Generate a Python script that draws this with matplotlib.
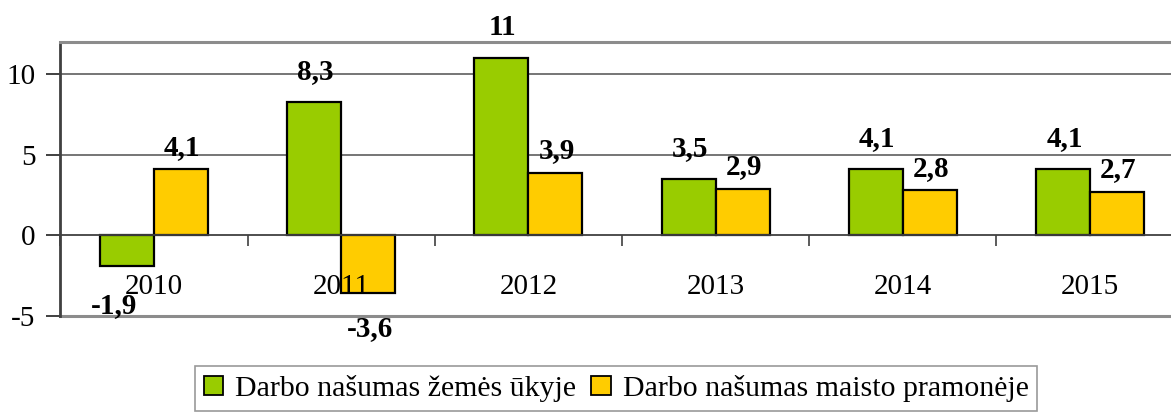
import matplotlib
matplotlib.use("Agg")
import matplotlib.pyplot as plt
from matplotlib.patches import Patch
import numpy as np

plt.rcParams['font.family'] = ['Liberation Serif', 'DejaVu Serif']

years = ["2010", "2011", "2012", "2013", "2014", "2015"]
agri = [-1.9, 8.3, 11, 3.5, 4.1, 4.1]
food = [4.1, -3.6, 3.9, 2.9, 2.8, 2.7]
agri_labels = ["-1,9", "8,3", "11", "3,5", "4,1", "4,1"]
food_labels = ["4,1", "-3,6", "3,9", "2,9", "2,8", "2,7"]
series_names = ["Darbo našumas žemės ūkyje", "Darbo našumas maisto pramonėje"]
colors = ["#99CC00", "#FFCC00"]

W, H = 1171, 412
fig = plt.figure(figsize=(W / 100, H / 100), dpi=100)
ax = fig.add_axes([60.4 / W, 96 / H, 1123.2 / W, 274 / H])

x = np.arange(len(years))
bw = 0.288
b1 = ax.bar(x - bw / 2, agri, bw, color=colors[0], edgecolor="black", linewidth=1.6, zorder=3)
b2 = ax.bar(x + bw / 2, food, bw, color=colors[1], edgecolor="black", linewidth=1.6, zorder=3)

ax.set_xlim(-0.5, 5.5)
ax.set_ylim(-5, 12)

# gridlines
for yv in [5, 10]:
    ax.axhline(yv, color="#505050", linewidth=1.1, zorder=1)
ax.axhline(-5, color="#8c8c8c", linewidth=2.2, zorder=1, clip_on=False)

ax.spines['right'].set_visible(False)
ax.spines['top'].set_color("#8c8c8c")
ax.spines['top'].set_linewidth(2.2)
ax.spines['left'].set_color("#404040")
ax.spines['left'].set_linewidth(2)
ax.spines['bottom'].set_position(('data', 0))
ax.spines['bottom'].set_color("#404040")
ax.spines['bottom'].set_linewidth(1.3)
ax.spines['bottom'].set_zorder(4)

ax.set_yticks([-5, 0, 5, 10])
ax.set_yticklabels(["-5", "0", "5", "10"])
ax.tick_params(axis='y', direction='out', length=10, width=1.4, color="#404040",
               labelsize=21, pad=8)
ax.set_xticks(np.arange(-0.5, 5.6, 1))
ax.set_xticklabels([])
ax.tick_params(axis='x', direction='out', length=8, width=1.2, color="#404040")

for xi, lab in zip(x, years):
    ax.text(xi, -3.2, lab, ha='center', va='center', fontsize=21, zorder=5)

def label_bars(bars, vals, labs, pos_dy, neg_dy, neg_dx):
    for b, v, l in zip(bars, vals, labs):
        cx = b.get_x() + b.get_width() / 2
        if v >= 0:
            ax.annotate(l, (cx, v), xytext=(1, pos_dy), textcoords='offset points',
                        ha='center', va='baseline', fontsize=21, fontweight='bold',
                        zorder=6, annotation_clip=False)
        else:
            ax.annotate(l, (cx, v), xytext=(neg_dx, neg_dy), textcoords='offset points',
                        ha='center', va='top', fontsize=21, fontweight='bold',
                        zorder=6, annotation_clip=False)

label_bars(b1, agri, agri_labels, 16.5, -19, -9)
label_bars(b2, food, food_labels, 10.5, -15.5, 1.5)

handles = [Patch(facecolor=c, edgecolor="black", linewidth=1.3) for c in colors]
leg = fig.legend(handles, series_names, loc='upper left',
                 bbox_to_anchor=(195 / W, 1 - 366 / H), fontsize=21.5,
                 ncol=2, frameon=True, fancybox=False, handlelength=0.65,
                 handleheight=0.65, handletextpad=0.4, columnspacing=0.5,
                 borderpad=0.3, borderaxespad=0)
leg.get_frame().set_edgecolor("#808080")
leg.get_frame().set_linewidth(1.2)

fig.savefig("out.png", dpi=100)
